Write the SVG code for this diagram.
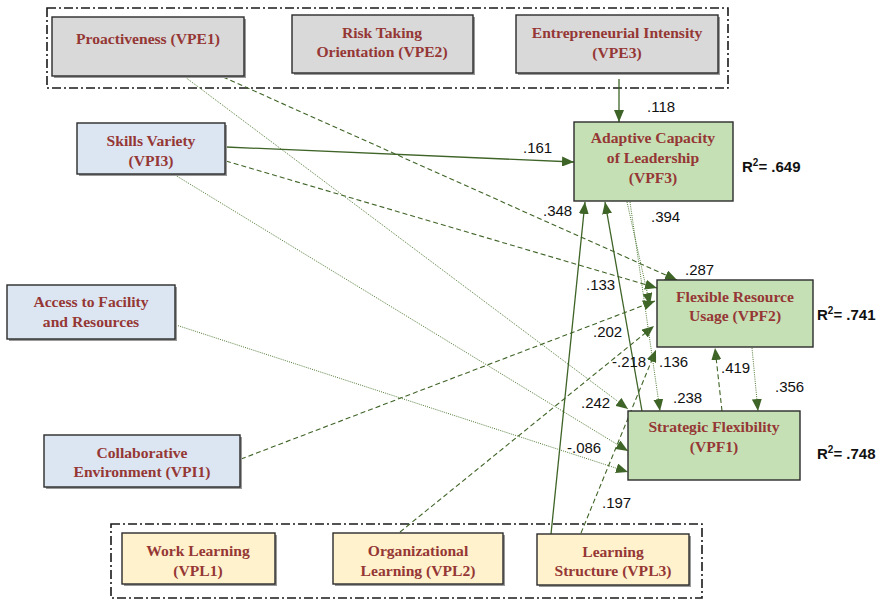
<svg xmlns="http://www.w3.org/2000/svg" width="881" height="599" viewBox="0 0 881 599">
  <style>
    .bg { fill: #ffffff; }
    .group { fill: none; stroke: #1a1a1a; stroke-width: 1.6; stroke-dasharray: 9 3 2 3; }
    .box { stroke: #2b2b2b; stroke-width: 1.4; }
    .shadow { fill: #9a9a9a; }
    .ent { fill: #d9d9d9; }
    .ind { fill: #dce6f2; }
    .flex { fill: #c5e0b4; }
    .lrn { fill: #fff2cc; }
    .nt { font-family: "Liberation Serif", "Times New Roman", serif; font-weight: bold; font-size: 15.6px; fill: #953735; text-anchor: middle; }
    .coef { font-family: "Liberation Sans", Arial, sans-serif; font-size: 15px; fill: #111111; }
    .r2 { font-family: "Liberation Sans", Arial, sans-serif; font-size: 15px; font-weight: bold; fill: #111111; }
    .solid { fill: none; stroke: #3f6427; stroke-width: 1.3; marker-end: url(#ah); }
    .dash { fill: none; stroke: #3f6427; stroke-width: 1.1; stroke-dasharray: 5 3; marker-end: url(#ah); }
    .dot { fill: none; stroke: #4f7a35; stroke-width: 1; stroke-dasharray: 1 1.2; marker-end: url(#ah); }
  </style>
  <defs>
    <marker id="ah" viewBox="0 0 12 10" refX="12" refY="5" markerWidth="12" markerHeight="10" orient="auto" markerUnits="userSpaceOnUse">
      <path d="M0,0 L12,5 L0,10 z" fill="#3f6427"/>
    </marker>
  </defs>

  <rect class="bg" x="0" y="0" width="881" height="599"/>

  <!-- dash-dot grouping frames -->
  <rect class="group" x="47" y="8" width="681" height="80"/>
  <rect class="group" x="111" y="524" width="591" height="74"/>

  <!-- connectors -->
  <g id="connectors">
    <!-- into Adaptive Capacity of Leadership -->
    <line class="solid" x1="619" y1="79" x2="619" y2="122"/>
    <line class="solid" x1="226" y1="147" x2="574" y2="162"/>
    <line class="solid" x1="551" y1="534" x2="585" y2="202"/>
    <line class="solid" x1="642" y1="411" x2="605" y2="202"/>
    <!-- into Flexible Resource Usage -->
    <line class="dash" x1="223" y1="77" x2="677" y2="280"/>
    <line class="dash" x1="226" y1="161" x2="657" y2="288"/>
    <line class="dash" x1="241" y1="459" x2="655" y2="301"/>
    <line class="dash" x1="400" y1="532" x2="654" y2="326"/>
    <line class="dash" x1="581" y1="533" x2="656" y2="350"/>
    <line class="dot" x1="627" y1="202" x2="650" y2="305"/>
    <line class="dash" x1="722" y1="411" x2="715" y2="348"/>
    <!-- into Strategic Flexibility -->
    <line class="dot" x1="630" y1="202" x2="660" y2="411"/>
    <line class="dot" x1="752" y1="348" x2="758" y2="411"/>
    <line class="dot" x1="185" y1="77" x2="628" y2="409"/>
    <line class="dot" x1="175" y1="175" x2="628" y2="451"/>
    <line class="dot" x1="176" y1="325" x2="628" y2="472"/>
  </g>

  <!-- path coefficients -->
  <g id="coefficients">
    <text class="coef" x="647" y="112">.118</text>
    <text class="coef" x="523" y="153">.161</text>
    <text class="coef" x="543" y="216">.348</text>
    <text class="coef" x="651" y="222">.394</text>
    <text class="coef" x="685" y="275">.287</text>
    <text class="coef" x="586" y="290">.133</text>
    <text class="coef" x="593" y="337">.202</text>
    <text class="coef" x="612" y="367">-.218</text>
    <text class="coef" x="659" y="367">.136</text>
    <text class="coef" x="721" y="373">.419</text>
    <text class="coef" x="775" y="392">.356</text>
    <text class="coef" x="673" y="403">.238</text>
    <text class="coef" x="581" y="408">.242</text>
    <text class="coef" x="567" y="453">-.086</text>
    <text class="coef" x="602" y="508">.197</text>
    <text class="r2" x="742" y="172">R<tspan dy="-6" font-size="10">2</tspan><tspan dy="6">= .649</tspan></text>
    <text class="r2" x="817" y="320">R<tspan dy="-6" font-size="10">2</tspan><tspan dy="6">= .741</tspan></text>
    <text class="r2" x="817" y="459">R<tspan dy="-6" font-size="10">2</tspan><tspan dy="6">= .748</tspan></text>
  </g>

  <!-- entrepreneurial orientation -->
  <g id="VPE1">
    <rect class="shadow" x="54" y="19" width="192" height="59"/>
    <rect class="box ent" x="52" y="17" width="192" height="59"/>
    <text class="nt" x="148" y="44">Proactiveness (VPE1)</text>
  </g>
  <g id="VPE2">
    <rect class="shadow" x="294" y="17" width="181" height="58"/>
    <rect class="box ent" x="292" y="15" width="181" height="58"/>
    <text class="nt" x="382" y="38">Risk Taking</text>
    <text class="nt" x="382" y="57">Orientation (VPE2)</text>
  </g>
  <g id="VPE3">
    <rect class="shadow" x="518" y="17" width="202" height="58"/>
    <rect class="box ent" x="516" y="15" width="202" height="58"/>
    <text class="nt" x="617" y="38">Entrepreneurial Intensity</text>
    <text class="nt" x="617" y="58">(VPE3)</text>
  </g>

  <!-- individual factors -->
  <g id="VPI3">
    <rect class="shadow" x="79" y="125" width="148" height="51"/>
    <rect class="box ind" x="77" y="123" width="148" height="51"/>
    <text class="nt" x="151" y="146">Skills Variety</text>
    <text class="nt" x="151" y="166">(VPI3)</text>
  </g>
  <g id="VPI4">
    <rect class="shadow" x="9" y="287" width="168" height="54"/>
    <rect class="box ind" x="7" y="285" width="168" height="54"/>
    <text class="nt" x="91" y="307">Access to Facility</text>
    <text class="nt" x="91" y="327">and Resources</text>
  </g>
  <g id="VPI1">
    <rect class="shadow" x="46" y="437" width="196" height="52"/>
    <rect class="box ind" x="44" y="435" width="196" height="52"/>
    <text class="nt" x="142" y="458">Collaborative</text>
    <text class="nt" x="142" y="477">Environment (VPI1)</text>
  </g>

  <!-- flexibility constructs -->
  <g id="VPF3">
    <rect class="box flex" x="574" y="122" width="159" height="79"/>
    <text class="nt" x="653" y="143">Adaptive Capacity</text>
    <text class="nt" x="653" y="163">of Leadership</text>
    <text class="nt" x="653" y="183">(VPF3)</text>
  </g>
  <g id="VPF2">
    <rect class="box flex" x="657" y="280" width="156" height="67"/>
    <text class="nt" x="735" y="302">Flexible Resource</text>
    <text class="nt" x="735" y="321">Usage (VPF2)</text>
  </g>
  <g id="VPF1">
    <rect class="box flex" x="628" y="411" width="172" height="69"/>
    <text class="nt" x="714" y="432">Strategic Flexibility</text>
    <text class="nt" x="714" y="452">(VPF1)</text>
  </g>

  <!-- learning constructs -->
  <g id="VPL1">
    <rect class="shadow" x="124" y="535" width="153" height="51"/>
    <rect class="box lrn" x="122" y="533" width="153" height="51"/>
    <text class="nt" x="198" y="556">Work Learning</text>
    <text class="nt" x="198" y="576">(VPL1)</text>
  </g>
  <g id="VPL2">
    <rect class="shadow" x="335" y="535" width="170" height="51"/>
    <rect class="box lrn" x="333" y="533" width="170" height="51"/>
    <text class="nt" x="418" y="556">Organizational</text>
    <text class="nt" x="418" y="576">Learning (VPL2)</text>
  </g>
  <g id="VPL3">
    <rect class="shadow" x="539" y="536" width="152" height="51"/>
    <rect class="box lrn" x="537" y="534" width="152" height="51"/>
    <text class="nt" x="613" y="557">Learning</text>
    <text class="nt" x="613" y="576">Structure (VPL3)</text>
  </g>
</svg>
